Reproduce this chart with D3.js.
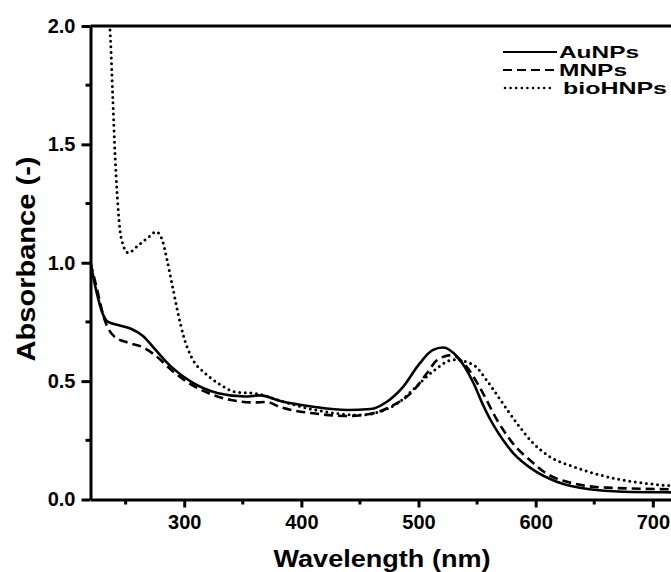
<body style="margin:0;background:#fff">
<svg width="671" height="572"></svg>
<script src="https://d3js.org/d3.v7.min.js"></script>
<script>
// spectra (wavelength nm / absorbance)
const auWl  = [220, 225, 230, 235, 245, 255, 265, 275, 289, 306, 329, 352, 365, 382, 410, 439, 459, 473, 487, 501, 512, 521, 533, 547, 555, 561, 567, 581, 598, 618, 646, 675, 720, 800];
const auAbs = [1.00, 0.88, 0.79, 0.75, 0.735, 0.72, 0.69, 0.635, 0.56, 0.497, 0.449, 0.435, 0.44, 0.416, 0.392, 0.378, 0.382, 0.413, 0.477, 0.575, 0.631, 0.642, 0.603, 0.491, 0.40, 0.34, 0.29, 0.195, 0.125, 0.075, 0.043, 0.033, 0.03, 0.028];

const mnWl  = [220, 225, 232, 240, 252, 264, 275, 289, 304, 321, 340, 360, 370, 382, 410, 439, 459, 476, 496, 507, 516, 528, 541, 555, 567, 584, 595, 607, 632, 661, 720, 800];
const mnAbs = [1.00, 0.90, 0.76, 0.69, 0.662, 0.645, 0.61, 0.547, 0.491, 0.449, 0.42, 0.41, 0.412, 0.39, 0.364, 0.353, 0.362, 0.392, 0.462, 0.532, 0.589, 0.61, 0.561, 0.449, 0.336, 0.217, 0.167, 0.117, 0.068, 0.05, 0.043, 0.04];

const bioWl  = [235, 237, 239, 241, 243, 246, 252, 261, 270, 276, 281, 285, 290, 295, 300, 306, 318, 329, 343, 363, 380, 410, 450, 467, 484, 495, 512, 530, 547, 558, 570, 584, 598, 612, 632, 661, 689, 715, 800];
const bioAbs = [2.1, 1.95, 1.7, 1.45, 1.27, 1.11, 1.042, 1.075, 1.11, 1.131, 1.10, 1.02, 0.90, 0.78, 0.68, 0.603, 0.533, 0.491, 0.455, 0.446, 0.42, 0.38, 0.357, 0.371, 0.413, 0.462, 0.54, 0.59, 0.568, 0.505, 0.42, 0.322, 0.237, 0.181, 0.139, 0.096, 0.071, 0.058, 0.04];

const seriesNames = ["AuNPs", "MNPs", "bioHNPs"];
const xTicks = [300, 400, 500, 600, 700];
const xMinor = [250, 350, 450, 550, 650, 750];
const yTicks = [0, 0.5, 1.0, 1.5, 2.0];
const yMinor = [0.25, 0.75, 1.25, 1.75];

const svg = d3.select("svg");
const font = "'Liberation Sans', Arial, sans-serif";

const x = d3.scaleLinear().domain([220, 800]).range([90.5, 90.5 + 580 * 1.1715]);
const y = d3.scaleLinear().domain([0, 2]).range([499.5, 26]);

const series = [
    { name: seriesNames[0], pts: d3.zip(auWl, auAbs), dash: null, width: 2.6, cap: "butt", tl: 80 },
    { name: seriesNames[1], pts: d3.zip(mnWl, mnAbs), dash: "9,5", width: 2.6, cap: "butt", tl: 68 },
    { name: seriesNames[2], pts: d3.zip(bioWl, bioAbs), dash: "0,5.6", width: 3, cap: "round", tl: 104 }
];

svg.append("clipPath").attr("id", "plot")
    .append("rect").attr("x", x(220)).attr("y", y(2)).attr("width", x(800) - x(220)).attr("height", y(0) - y(2));

const line = d3.line().x(d => x(d[0])).y(d => y(d[1])).curve(d3.curveMonotoneX);

svg.append("g").attr("clip-path", "url(#plot)")
    .selectAll("path").data(series).enter().append("path")
    .attr("d", d => line(d.pts))
    .attr("fill", "none")
    .attr("stroke", "#000")
    .attr("stroke-width", d => d.width)
    .attr("stroke-dasharray", d => d.dash)
    .attr("stroke-linecap", d => d.cap);

// axes
const xAxis = svg.append("g").attr("transform", `translate(0,${y(0)})`)
    .call(d3.axisBottom(x).tickValues(xTicks).tickSize(8).tickSizeOuter(0).tickPadding(7));
xAxis.selectAll(".minor").data(xMinor).enter().append("line")
    .attr("x1", d => x(d)).attr("x2", d => x(d)).attr("y1", 0).attr("y2", 5);

const yAxis = svg.append("g").attr("transform", `translate(${x(220)},0)`)
    .call(d3.axisLeft(y).tickValues(yTicks).tickFormat(d3.format(".1f")).tickSize(9).tickSizeOuter(0).tickPadding(6));
yAxis.selectAll(".minor").data(yMinor).enter().append("line")
    .attr("x1", -5).attr("x2", 0).attr("y1", d => y(d)).attr("y2", d => y(d));

svg.append("line").attr("x1", x(220)).attr("x2", x(800)).attr("y1", y(2)).attr("y2", y(2));

svg.selectAll("g line, svg > line, g path.domain")
    .attr("stroke", "#000").attr("stroke-width", 3);
svg.selectAll("g .tick text")
    .attr("font-family", font).attr("font-size", 20).attr("font-weight", "bold").attr("fill", "#000");

// axis titles
svg.append("text").attr("x", 382).attr("y", 567).attr("text-anchor", "middle")
    .attr("font-family", font).attr("font-size", 24).attr("font-weight", "bold")
    .attr("textLength", 217).attr("lengthAdjust", "spacingAndGlyphs")
    .text("Wavelength (nm)");
svg.append("text").attr("transform", "translate(35,259) rotate(-90)").attr("text-anchor", "middle")
    .attr("font-family", font).attr("font-size", 26).attr("font-weight", "bold")
    .attr("textLength", 205).attr("lengthAdjust", "spacingAndGlyphs")
    .text("Absorbance (-)");

// legend
const legend = svg.append("g").attr("transform", "translate(503,52)");
const rows = legend.selectAll("g").data(series).enter().append("g")
    .attr("transform", (d, i) => `translate(0,${i * 18})`);
rows.append("line").attr("x1", d => d.cap === "round" ? 2 : 0).attr("x2", d => d.cap === "round" ? 50 : 54)
    .attr("y1", 0).attr("y2", 0)
    .attr("stroke", "#000").attr("stroke-width", d => d.width - 0.4)
    .attr("stroke-dasharray", d => d.dash).attr("stroke-linecap", d => d.cap);
rows.append("text").attr("x", d => d.cap === "round" ? 60 : 56).attr("y", 6)
    .attr("font-family", font).attr("font-size", 17).attr("font-weight", "bold")
    .attr("textLength", d => d.tl).attr("lengthAdjust", "spacingAndGlyphs")
    .text(d => d.name);
</script>
</body>
